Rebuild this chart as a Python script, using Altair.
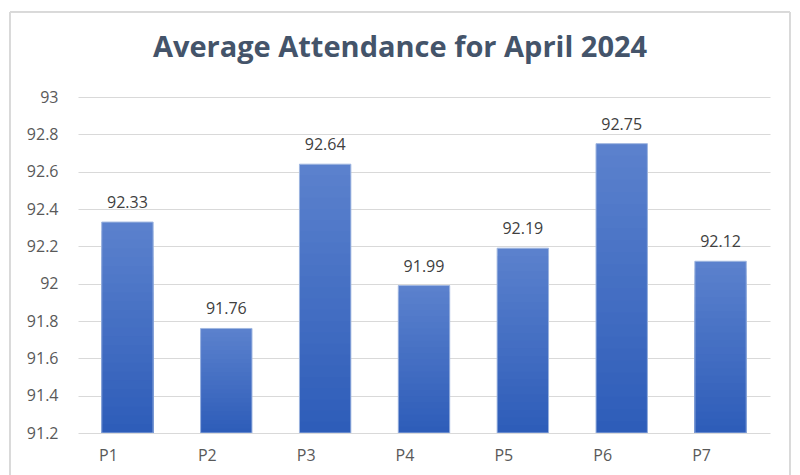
import altair as alt
import pandas as pd

periods = ["P1", "P2", "P3", "P4", "P5", "P6", "P7"]
attendance = [92.33, 91.76, 92.64, 91.99, 92.19, 92.75, 92.12]
y_ticks = [91.2, 91.4, 91.6, 91.8, 92, 92.2, 92.4, 92.6, 92.8, 93]
y_min, y_max = 91.2, 93

df = pd.DataFrame({"period": periods, "value": attendance})

FONT = "Open Sans"
TOP_RGB = (0x5b, 0x81, 0xcd)
BOT_RGB = (0x2e, 0x5d, 0xb9)
N_SHADES = 24

x_axis = alt.Axis(labelAngle=0, labelFontSize=16, labelColor="#595959",
                  labelFont=FONT, labelPadding=14, labelOffset=-19,
                  domain=False, ticks=False)
x_scale = alt.Scale(paddingInner=0.48, paddingOuter=0.24)
y_axis = alt.Axis(values=y_ticks, labelOverlap=False,
                  format=".1~f", labelFontSize=16, labelColor="#595959",
                  labelFont=FONT, labelPadding=20, domain=False, ticks=False,
                  gridColor="#d9d9d9", gridWidth=1)
y_scale = alt.Scale(domain=[y_min, y_max], zero=False, nice=False)

x_enc = alt.X("period:N", sort=periods, title=None, scale=x_scale, axis=x_axis)


def mix(t):
    c = [round(a + (b - a) * t) for a, b in zip(TOP_RGB, BOT_RGB)]
    return "#%02x%02x%02x" % tuple(c)


# vertical gradient inside each bar: nested bars from the baseline, each shorter and darker
shade_layers = []
for k in range(N_SHADES):
    frac = 1 - k / N_SHADES
    shade_layers.append(
        alt.Chart(df)
        .transform_calculate(top=f"{y_min} + (datum.value - {y_min}) * {frac}")
        .mark_bar(color=mix(k / (N_SHADES - 1)), clip=True)
        .encode(x=x_enc,
                y=alt.Y("top:Q", title=None, scale=y_scale, axis=y_axis),
                y2=alt.datum(y_min))
    )

outline = alt.Chart(df).mark_bar(fill=None, stroke="#9fb6e0", strokeWidth=1, clip=True).encode(
    x=x_enc, y=alt.Y("value:Q", title=None, scale=y_scale, axis=y_axis), y2=alt.datum(y_min))

labels = alt.Chart(df).mark_text(baseline="bottom", dy=-11, fontSize=16, font=FONT,
                                 color="#404040").encode(
    x=x_enc, y=alt.Y("value:Q", title=None, scale=y_scale, axis=y_axis),
    text=alt.Text("value:Q", format=".2f"))

border = alt.Chart(df).mark_rect(fill=None, stroke="#d9d9d9", strokeWidth=1, clip=False).encode(
    x=alt.value(-68), x2=alt.value(712), y=alt.value(-85), y2=alt.value(420))

chart = alt.layer(border, *shade_layers, outline, labels).properties(
    width=692, height=336,
    autosize=alt.AutoSizeParams(type="none"),
    padding={"left": 70, "top": 89, "right": 22, "bottom": 42},
    title=alt.TitleParams("Average Attendance for April 2024", fontSize=29, font=FONT,
                          fontWeight="bold", color="#44546a", anchor="middle",
                          dx=-24, offset=-51),
).configure_view(stroke=None)

chart.save("out.html", embed_options={"renderer": "svg", "actions": False})
